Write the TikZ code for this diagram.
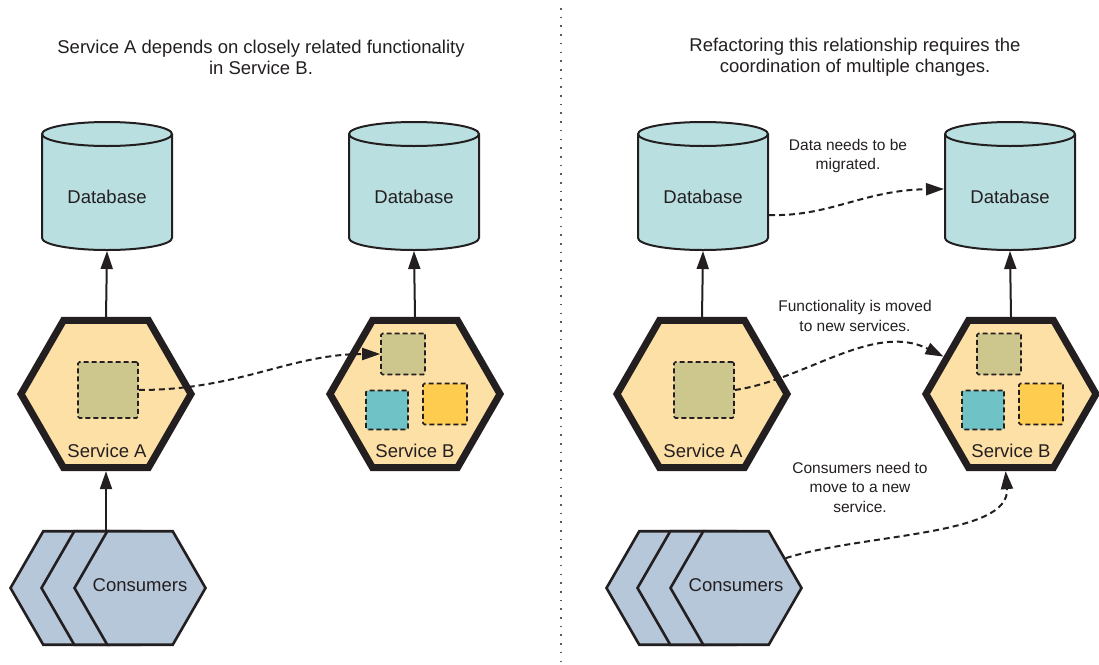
\documentclass[tikz,border=0pt]{standalone}
\usepackage{fontspec}
\setmainfont{Liberation Sans}
\usepackage{tikz}
\usetikzlibrary{shapes.geometric, arrows.meta}
\definecolor{ink}{HTML}{231F20}
\definecolor{hexfill}{HTML}{FDE0A6}
\definecolor{dbfill}{HTML}{B9DFE0}
\definecolor{consfill}{HTML}{B7C7DA}
\definecolor{boxolive}{HTML}{CDC78D}
\definecolor{boxteal}{HTML}{6FC3C7}
\definecolor{boxyellow}{HTML}{FECC4E}
\tikzset{
    big/.style={font=\fontsize{18.5}{21}\selectfont, text=ink},
    service/.style={regular polygon, regular polygon sides=6, minimum size=170pt, inner sep=0pt, draw=ink, fill=hexfill, line width=7pt},
    consumer/.style={regular polygon, regular polygon sides=6, minimum size=131pt, inner sep=0pt, draw=ink, fill=consfill, line width=2.6pt},
    dbtext/.style={minimum width=130pt, minimum height=106pt, inner sep=0pt, outer sep=1pt, big},
    dbline/.style={draw=ink, fill=dbfill, line width=2pt},
    part/.style={draw=ink, line width=1.6pt, dash pattern=on 5pt off 3pt, rounded corners=1.5pt, inner sep=0pt},
    tip/.style={arrows={-Triangle[length=18pt, width=12pt]}},
    link/.style={draw=ink, line width=2pt, tip},
    move/.style={link, dash pattern=on 6pt off 4pt},
    note/.style={align=center, text=ink, font=\fontsize{15.5}{19.5}\selectfont},
    heading/.style={align=center, big}}
\newcommand{\database}[2]{
    \filldraw[dbline] (#2-65, 134) -- (#2-65, 238) arc[start angle=180, end angle=360, x radius=65pt, y radius=12pt]
        -- (#2+65, 134) arc[start angle=0, end angle=180, x radius=65pt, y radius=12pt] -- cycle;
    \draw[dbline, fill=none] (#2-65, 134) arc[start angle=180, end angle=360, x radius=65pt, y radius=12pt];
    \node[dbtext] (#1) at (#2, 197) {Database};
}
\newcommand{\consumers}[2]{
    \node[consumer] (#1c) at (#2-64, 588) {};
    \node[consumer] (#1b) at (#2-33, 588) {};
    \node[consumer] (#1) at (#2, 588) {};
    \node[big] (#1txt) at (#2, 585) {Consumers};
}

\begin{document}
\begin{tikzpicture}[x=1pt, y=-1pt]
    \useasboundingbox (0, 0) rectangle (1099, 664);
    \draw[ink!75, line width=1.6pt, dash pattern=on 1.6pt off 7.1pt] (561, 8)--(561, 664);
    \node[heading] (headL) at (261, 57) {Service A depends on closely related functionality\\in Service B.};
    \node[heading] (headR) at (855, 57) {Refactoring this relationship requires the\\coordination of multiple changes.};

    % before
    \database{dbA1}{107}
    \database{dbB1}{414}
    \node[service] (hexA1) at (106, 394) {};
    \node[part, fill=boxolive, minimum width=60pt, minimum height=56pt] (sqA1) at (108, 390) {};
    \node[big] (nameA1) at (107, 451) {Service A};
    \node[service] (hexB1) at (415, 394) {};
    \node[part, fill=boxolive, minimum width=44pt, minimum height=41pt] (sqB1) at (403, 354) {};
    \node[part, fill=boxteal, minimum width=42pt, minimum height=39pt] (tlB1) at (387, 410) {};
    \node[part, fill=boxyellow, minimum width=44pt, minimum height=41pt] (ylB1) at (445, 404) {};
    \node[big] (nameB1) at (415, 451) {Service B};
    \consumers{cons1}{140}
    \draw[link] (hexA1.north)--(dbA1.south);
    \draw[link] (hexB1.north)--(dbB1.south);
    \draw[link] (hexA1.south |- cons1.north)--(hexA1.south);
    \draw[move] (sqA1.east) .. controls +(100, 0) and +(-90, 0) .. (sqB1.west);

    % after
    \database{dbA2}{703}
    \database{dbB2}{1010}
    \node[service] (hexA2) at (702, 394) {};
    \node[part, fill=boxolive, minimum width=60pt, minimum height=56pt] (sqA2) at (704, 390) {};
    \node[big] (nameA2) at (703, 451) {Service A};
    \node[service] (hexB2) at (1011, 394) {};
    \node[part, fill=boxolive, minimum width=44pt, minimum height=41pt] (sqB2) at (999, 354) {};
    \node[part, fill=boxteal, minimum width=42pt, minimum height=39pt] (tlB2) at (983, 410) {};
    \node[part, fill=boxyellow, minimum width=44pt, minimum height=41pt] (ylB2) at (1041, 404) {};
    \node[big] (nameB2) at (1011, 451) {Service B};
    \consumers{cons2}{736}
    \draw[link] (hexA2.north)--(dbA2.south);
    \draw[link] (hexB2.north)--(dbB2.south);
    \node[note] (noteData) at (848, 156) {Data needs to be\\migrated.};
    \node[note] (noteFunc) at (855, 316) {Functionality is moved\\to new services.};
    \node[note] (noteCons) at (860, 487) {Consumers need to\\move to a new\\service.};
    \draw[move] ([yshift=-18pt]dbA2.east) .. controls +(60, 2) and +(-80, 1) .. ([yshift=8pt]dbB2.west);
    \draw[move] (sqA2.east) .. controls +(70, -10) and +(-70, -35) .. (hexB2.151);
    \draw[move] (cons2.31) .. controls +(80, -25) and +(5, 65) .. (hexB2.266);
\end{tikzpicture}
\end{document}
